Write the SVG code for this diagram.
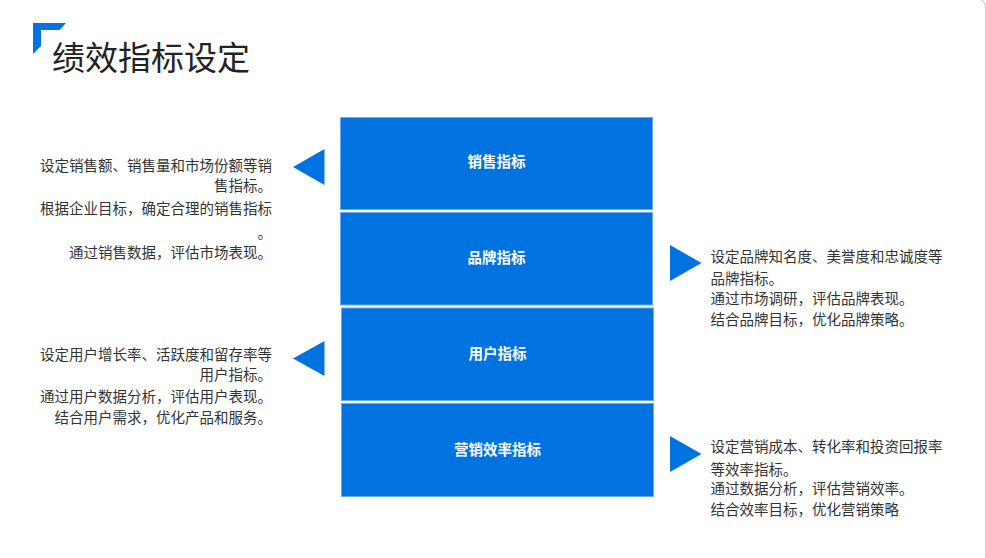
<svg xmlns="http://www.w3.org/2000/svg" width="986" height="558" viewBox="0 0 986 558">
<style>
text{font-family:"Noto Sans CJK SC","Noto Sans",sans-serif;}
.box{fill:#0073E0;stroke:#6AAAF0;stroke-width:1;}
.lbl{fill:#FFFFFF;font-size:14.5px;font-weight:bold;text-anchor:middle;}
.tri{fill:#0073E0;}
.d{fill:#333333;font-size:14.5px;}
.r{text-anchor:end;}
</style>
<rect x="0" y="0" width="986" height="558" fill="#FFFFFF"/>
<path d="M978,-1 Q985.5,0 985.5,8 V558" fill="none" stroke="#CFCFCF" stroke-width="1.2"/>
<g id="title">
<polygon points="33,23 66,23 59.5,30 41,30 41,46 33,54" fill="#0073E0"/>
<text x="52" y="70" font-size="33" fill="#222222">绩效指标设定</text>
</g>
<g id="connectors">
<polygon class="tri" points="293,167 324.5,149 324.5,185"/>
<polygon class="tri" points="293,358.5 324.5,341 324.5,376"/>
<polygon class="tri" points="701.5,263 670,245 670,281"/>
<polygon class="tri" points="701.5,454 670,436 670,472"/>
</g>
<g id="node-sales">
<rect class="box" x="340.5" y="117.5" width="312" height="92"/>
<text class="lbl" x="496.5" y="167">销售指标</text>
</g>
<g id="node-brand">
<rect class="box" x="340.5" y="212.5" width="312" height="92.5"/>
<text class="lbl" x="496.5" y="263">品牌指标</text>
</g>
<g id="node-user">
<rect class="box" x="341.5" y="308" width="312" height="92.5"/>
<text class="lbl" x="497.5" y="359">用户指标</text>
</g>
<g id="node-efficiency">
<rect class="box" x="341.5" y="403.5" width="312" height="93"/>
<text class="lbl" x="497.5" y="454.5">营销效率指标</text>
</g>
<g id="desc-sales">
<text class="d r" x="272" y="170.5">设定销售额、销售量和市场份额等销</text>
<text class="d r" x="272" y="190.5">售指标。</text>
<text class="d r" x="272" y="213.5">根据企业目标，确定合理的销售指标</text>
<text class="d r" x="272" y="238">。</text>
<text class="d r" x="272" y="258">通过销售数据，评估市场表现。</text>
</g>
<g id="desc-user">
<text class="d r" x="272" y="360">设定用户增长率、活跃度和留存率等</text>
<text class="d r" x="272" y="380">用户指标。</text>
<text class="d r" x="272" y="402">通过用户数据分析，评估用户表现。</text>
<text class="d r" x="272" y="423">结合用户需求，优化产品和服务。</text>
</g>
<g id="desc-brand">
<text class="d" x="710.5" y="262">设定品牌知名度、美誉度和忠诚度等</text>
<text class="d" x="710.5" y="284">品牌指标。</text>
<text class="d" x="710.5" y="304">通过市场调研，评估品牌表现。</text>
<text class="d" x="710.5" y="324.5">结合品牌目标，优化品牌策略。</text>
</g>
<g id="desc-efficiency">
<text class="d" x="710.5" y="452">设定营销成本、转化率和投资回报率</text>
<text class="d" x="710.5" y="474.5">等效率指标。</text>
<text class="d" x="710.5" y="493.5">通过数据分析，评估营销效率。</text>
<text class="d" x="710.5" y="514.5">结合效率目标，优化营销策略</text>
</g>
</svg>
